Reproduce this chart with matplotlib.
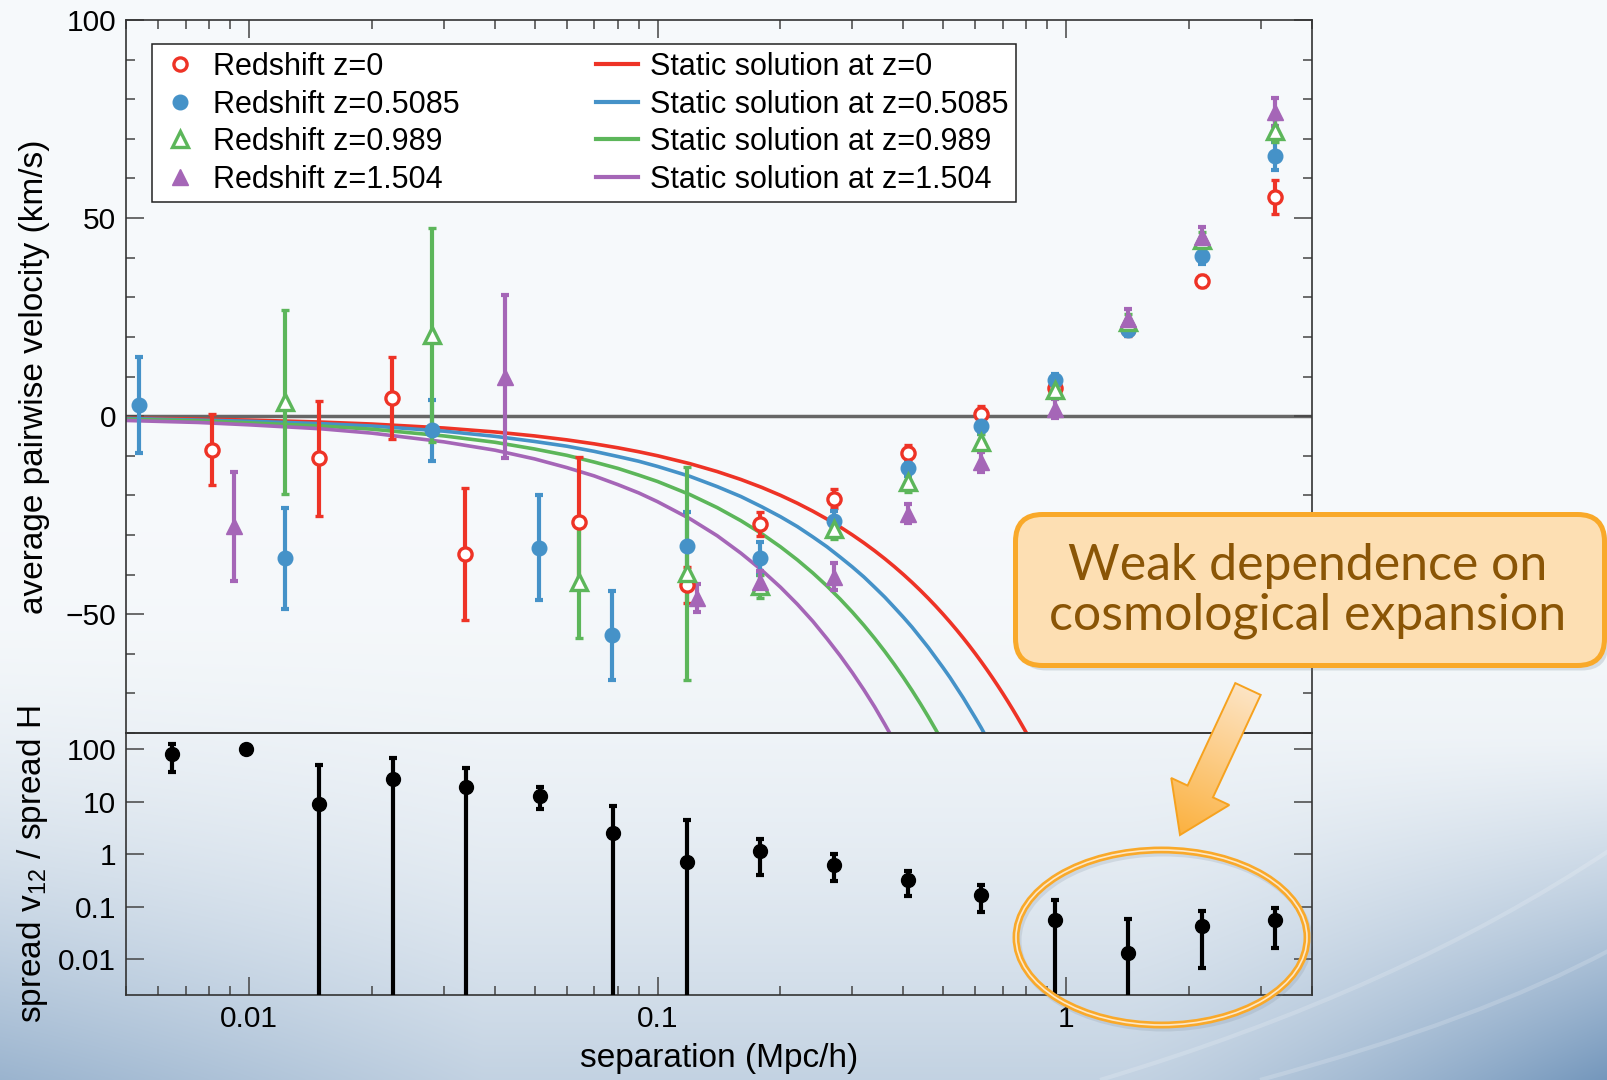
import numpy as np
import matplotlib.pyplot as plt
from matplotlib.lines import Line2D
from matplotlib.patches import FancyBboxPatch, Ellipse, FancyArrow, PathPatch
from matplotlib.path import Path
from matplotlib.colors import to_rgb
from matplotlib.ticker import LogLocator, MultipleLocator, NullLocator, NullFormatter

plt.rcParams['font.family'] = ['Liberation Sans', 'DejaVu Sans']
plt.rcParams['mathtext.fontset'] = 'custom'
plt.rcParams['mathtext.rm'] = 'Liberation Sans'
plt.rcParams['mathtext.it'] = 'Liberation Sans:italic'

RED, BLUE, GREEN, PURPLE = '#ee3326', '#4592c8', '#5cb65a', '#a566b7'

# ---- top panel: average pairwise velocity (km/s) ----
x_z0 = [0.00813, 0.01483, 0.02234, 0.0338, 0.0643, 0.118, 0.1786, 0.2704, 0.4093, 0.6194, 0.9376, 1.419, 2.148, 3.251]
v_z0 = [-8.5, -10.7, 4.5, -34.8, -26.8, -42.6, -27.3, -20.8, -9.3, 0.6, 7.0, 22.1, 34.0, 55.3]
e_z0 = [9.0, 14.4, 10.3, 16.7, 16.5, 4.5, 3.0, 2.5, 2.0, 2.0, 2.0, 2.0, 1.5, 4.4]

x_z05 = [0.00537, 0.01225, 0.0281, 0.0513, 0.0773, 0.118, 0.1786, 0.2704, 0.4093, 0.6194, 0.9376, 1.419, 2.148, 3.251]
v_z05 = [2.8, -35.9, -3.6, -33.2, -55.3, -32.7, -35.9, -26.5, -13.1, -2.5, 9.1, 21.7, 40.3, 65.6]
e_z05 = [12.2, 12.7, 7.7, 13.2, 11.2, 8.5, 4.2, 2.5, 2.0, 2.0, 1.5, 1.5, 2.0, 3.5]

x_z1 = [0.01225, 0.0281, 0.0643, 0.118, 0.1786, 0.2704, 0.4093, 0.6194, 0.9376, 1.419, 2.148, 3.251]
v_z1 = [3.6, 20.4, -41.8, -39.7, -43.0, -28.4, -16.6, -6.5, 6.6, 23.8, 44.4, 72.1]
e_z1 = [23.2, 27.0, 14.3, 26.9, 3.0, 2.5, 2.5, 2.0, 2.0, 2.0, 2.0, 3.0]

x_z15 = [0.00918, 0.0424, 0.125, 0.1786, 0.2704, 0.4093, 0.6194, 0.9376, 1.419, 2.148, 3.251]
v_z15 = [-27.8, 9.9, -46.0, -42.0, -40.5, -24.6, -11.6, 1.9, 24.6, 45.2, 76.7]
e_z15 = [13.8, 20.6, 3.5, 3.0, 3.4, 2.5, 2.5, 2.5, 2.5, 2.5, 3.5]

# static solutions
curve_x = [0.005, 0.0075, 0.01, 0.015, 0.02, 0.03, 0.04, 0.05, 0.06, 0.07, 0.08, 0.09,
           0.10, 0.12, 0.14, 0.16, 0.18, 0.20, 0.22, 0.24, 0.26, 0.28, 0.30, 0.32, 0.34,
           0.36, 0.38, 0.40, 0.42, 0.44, 0.46, 0.48, 0.50, 0.52, 0.54, 0.56, 0.58, 0.60,
           0.62, 0.64, 0.66, 0.68, 0.70, 0.72, 0.74, 0.76, 0.78, 0.80, 0.82, 0.84]
static_z0 = [-0.5, -0.75, -1.0, -1.5, -2.0, -3.0, -4.0, -5.0, -6.0, -7.0, -8.0, -9.0,
             -10.0, -12.0, -14.0, -16.0, -18.0, -20.0, -22.0, -24.0, -26.0, -28.0, -30.0, -32.0, -34.0,
             -36.0, -38.0, -40.0, -42.0, -44.0, -46.0, -48.0, -50.0, -52.0, -54.0, -56.0, -58.0, -60.0,
             -62.0, -64.0, -66.0, -68.0, -70.0, -72.0, -74.0, -76.0, -78.0, -80.0, -82.0, -84.0]
static_z05 = [-0.6, -1.0, -1.3, -1.9, -2.5, -3.8, -5.1, -6.4, -7.6, -8.9, -10.2, -11.4,
              -12.7, -15.2, -17.8, -20.3, -22.9, -25.4, -27.9, -30.5, -33.0, -35.6, -38.1, -40.6, -43.2,
              -45.7, -48.3, -50.8, -53.3, -55.9, -58.4, -61.0, -63.5, -66.0, -68.6, -71.1, -73.7, -76.2,
              -78.7, -81.3, -83.8, -86.4, -88.9, -91.4, -94.0, -96.5, -99.1, -101.6, -104.1, -106.7]
static_z1 = [-0.8, -1.2, -1.7, -2.5, -3.3, -5.0, -6.6, -8.3, -9.9, -11.6, -13.2, -14.9,
             -16.5, -19.8, -23.1, -26.4, -29.7, -33.0, -36.3, -39.6, -42.9, -46.2, -49.5, -52.8, -56.1,
             -59.4, -62.7, -66.0, -69.3, -72.6, -75.9, -79.2, -82.5, -85.8, -89.1, -92.4, -95.7, -99.0,
             -102.3, -105.6, -108.9, -112.2, -115.5, -118.8, -122.1, -125.4, -128.7, -132.0, -135.3, -138.6]
static_z15 = [-1.1, -1.6, -2.2, -3.2, -4.3, -6.5, -8.6, -10.8, -13.0, -15.1, -17.3, -19.4,
              -21.6, -25.9, -30.2, -34.6, -38.9, -43.2, -47.5, -51.8, -56.2, -60.5, -64.8, -69.1, -73.4,
              -77.8, -82.1, -86.4, -90.7, -95.0, -99.4, -103.7, -108.0, -112.3, -116.6, -121.0, -125.3, -129.6,
              -133.9, -138.2, -142.6, -146.9, -151.2, -155.5, -159.8, -164.2, -168.5, -172.8, -177.1, -181.4]

# ---- bottom panel: spread ratio ----
sep = [0.00649, 0.00982, 0.01486, 0.02249, 0.03404, 0.05152, 0.07798, 0.1180,
       0.1786, 0.2704, 0.4093, 0.6194, 0.9376, 1.419, 2.148, 3.251]
ratio = [80, 100, 9.1, 26.9, 19.5, 12.9, 2.6, 0.72, 1.16, 0.63, 0.325, 0.168, 0.056, 0.013, 0.043, 0.056]
ratio_hi = [126, 115, 50, 70, 43.5, 18.9, 8.3, 4.5, 1.96, 1.0, 0.49, 0.26, 0.135, 0.060, 0.085, 0.096]
ratio_lo = [36.5, 84, 1e-4, 1e-4, 1e-4, 7.2, 1e-4, 1e-4, 0.40, 0.31, 0.163, 0.0785, 1e-4, 1e-4, 0.0069, 0.0162]

W, H = 1608, 1080
fig = plt.figure(figsize=(W / 100, H / 100), dpi=100)

# slide background
yy, xx = np.mgrid[0:H:2, 0:W:2]
xn, yn = xx / W, yy / H
d = (0.36 * np.clip((yn - 0.45) / 0.55, 0, 1) ** 2.2
     + 0.55 * np.clip((xn - 0.70) / 0.30, 0, 1) ** 1.3 * np.clip((yn - 0.68) / 0.32, 0, 1) ** 1.2
     + 0.28 * np.clip((0.3 - xn) / 0.3, 0, 1) * np.clip((yn - 0.58) / 0.42, 0, 1) ** 1.5)
light = np.array([0.966, 0.977, 0.985])
dark = np.array([0.40, 0.55, 0.71])
img = light[None, None, :] * (1 - d[..., None]) + dark[None, None, :] * d[..., None]
bg = fig.add_axes([0, 0, 1, 1], zorder=-10)
bg.imshow(img, extent=[0, W, H, 0], aspect='auto', interpolation='bilinear')
for p0, p1, p2 in [((1100, 1080), (1400, 990), (1610, 850)), ((1260, 1080), (1480, 1020), (1610, 950))]:
    sw = Path([p0, p1, p2], [Path.MOVETO, Path.CURVE3, Path.CURVE3])
    bg.add_patch(PathPatch(sw, fc='none', ec='white', lw=3, alpha=0.18))
bg.set_xlim(0, W)
bg.set_ylim(H, 0)
bg.axis('off')

ax = fig.add_axes([126 / W, 1 - 733 / H, 1186 / W, 713 / H])
axb = fig.add_axes([126 / W, 1 - 995 / H, 1186 / W, 262 / H], sharex=ax)
for a in (ax, axb):
    a.set_facecolor('none')
    for s in a.spines.values():
        s.set_linewidth(1.2)
        s.set_color('#333333')

ax.axhline(0, color='#666666', lw=2.5, zorder=1.5)

ax.plot(curve_x, static_z0, color=RED, lw=2.6, zorder=2)
ax.plot(curve_x, static_z05, color=BLUE, lw=2.6, zorder=2)
ax.plot(curve_x, static_z1, color=GREEN, lw=2.6, zorder=2)
ax.plot(curve_x, static_z15, color=PURPLE, lw=2.6, zorder=2)

eb = dict(elinewidth=3, capsize=2.8, capthick=3, zorder=3)
ax.errorbar(x_z0, v_z0, yerr=e_z0, fmt='o', color=RED, ms=9.5, mfc='white', mec=RED, mew=2.4, **eb)
ax.errorbar(x_z05, v_z05, yerr=e_z05, fmt='o', color=BLUE, ms=10.5, **eb)
ax.errorbar(x_z1, v_z1, yerr=e_z1, fmt='^', color=GREEN, ms=12, mfc='white', mec=GREEN, mew=2.4, **eb)
ax.errorbar(x_z15, v_z15, yerr=e_z15, fmt='^', color=PURPLE, ms=12, **eb)

ax.set_xscale('log')
ax.set_xlim(0.005, 4)
ax.set_ylim(-80, 100)
ax.set_yticks([-50, 0, 50, 100])
ax.yaxis.set_minor_locator(MultipleLocator(10))
ax.tick_params(axis='both', which='both', direction='in', colors='#444444', width=1.1,
               labelsize=21.5, pad=7)
ax.tick_params(which='major', length=13)
ax.tick_params(which='minor', length=6.5)
ax.tick_params(axis='x', which='both', top=True, bottom=False, labelbottom=False, labeltop=False)
ax.tick_params(axis='y', which='both', left=True, right=True, labelcolor='black')
ax.set_ylabel('average pairwise velocity (km/s)', fontsize=24)
ax.yaxis.set_label_coords(-0.064, 0.5)

handles = [
    Line2D([], [], ls='none', marker='o', ms=9.5, mfc='white', mec=RED, mew=2.4),
    Line2D([], [], ls='none', marker='o', ms=10.5, color=BLUE),
    Line2D([], [], ls='none', marker='^', ms=12, mfc='white', mec=GREEN, mew=2.4),
    Line2D([], [], ls='none', marker='^', ms=12, color=PURPLE),
    Line2D([], [], color=RED, lw=3),
    Line2D([], [], color=BLUE, lw=3),
    Line2D([], [], color=GREEN, lw=3),
    Line2D([], [], color=PURPLE, lw=3),
]
labels = ['Redshift z=0', 'Redshift z=0.5085', 'Redshift z=0.989', 'Redshift z=1.504',
          'Static solution at z=0', 'Static solution at z=0.5085',
          'Static solution at z=0.989', 'Static solution at z=1.504']
leg = ax.legend(handles, labels, ncol=2, loc='upper left', bbox_to_anchor=(0.0217, 0.966),
                borderaxespad=0, fontsize=22, fancybox=False, framealpha=1, edgecolor='#222222',
                borderpad=0.25, handlelength=1.37, handletextpad=0.38, columnspacing=4.47,
                labelspacing=0.25)
leg.get_frame().set_linewidth(1.1)

axb.errorbar(sep, ratio, yerr=[np.subtract(ratio, ratio_lo), np.subtract(ratio_hi, ratio)],
             fmt='o', color='black', ms=10, elinewidth=3, capsize=2.8, capthick=3, zorder=3)
axb.set_yscale('log')
axb.set_ylim(0.0021, 205)
axb.set_yticks([0.01, 0.1, 1, 10, 100], ['0.01', '0.1', '1', '10', '100'])
axb.yaxis.set_minor_locator(NullLocator())
axb.set_xticks([0.01, 0.1, 1], ['0.01', '0.1', '1'])
axb.xaxis.set_minor_locator(LogLocator(base=10, subs=np.arange(2, 10)))
axb.xaxis.set_minor_formatter(NullFormatter())
axb.set_xlim(0.005, 4)
axb.tick_params(axis='both', which='both', direction='in', colors='#444444', width=1.1,
                labelsize=21.5, pad=7, labelcolor='black')
axb.tick_params(which='major', length=13)
axb.tick_params(which='minor', length=6.5)
axb.tick_params(axis='x', which='both', top=False, bottom=True)
axb.tick_params(axis='y', which='both', left=True, right=True)
axb.set_ylabel(r'spread v$_{\mathrm{12}}$ / spread H', fontsize=24)
axb.yaxis.set_label_coords(-0.064, 0.5)
axb.set_xlabel('separation (Mpc/h)', fontsize=24)
axb.xaxis.set_label_coords(0.5, -0.185)

# callout layer, in pixel units
ov = fig.add_axes([0, 0, 1, 1], zorder=5)
ov.set_facecolor('none')

ov.add_patch(FancyBboxPatch((1019.5, 519.5), 589, 151, boxstyle='round,pad=0,rounding_size=27',
                            fc='#6f8194', ec='none', alpha=0.22))
ov.add_patch(FancyBboxPatch((1015.5, 514.5), 589, 151, boxstyle='round,pad=0,rounding_size=27',
                            fc='#fddfb3', ec='#f9a92a', lw=3.6))
ov.text(1308, 591, 'Weak dependence on\ncosmological expansion', ha='center', va='center',
        fontsize=36, family=['Lato', 'DejaVu Sans'], color='#8a5506', linespacing=1.12)

arrow = FancyArrow(1248, 689, -68, 146, width=28, head_width=64, head_length=48,
                   length_includes_head=True, transform=ov.transData)
gy, gx = np.mgrid[670:850, 1130:1290]
t = np.clip(((gx - 1248) * -68 + (gy - 689) * 146) / (68 ** 2 + 146 ** 2), 0, 1)
c0, c1 = np.array(to_rgb('#fde4c4')), np.array(to_rgb('#fbb13f'))
grad = c0[None, None, :] * (1 - t[..., None]) + c1[None, None, :] * t[..., None]
im = ov.imshow(grad, extent=[1130, 1290, 850, 670], aspect='auto', interpolation='bilinear')
im.set_clip_path(arrow)
ov.add_patch(FancyArrow(1248, 689, -68, 146, width=28, head_width=64, head_length=48,
                        length_includes_head=True, fc='none', ec='#f6a21f', lw=1.4))

ov.add_patch(Ellipse((1163.5, 940.5), 291, 175, fc='none', ec='#7d8c9c', lw=5, alpha=0.2))
ov.add_patch(Ellipse((1161.5, 937.5), 291, 175, fc='none', ec='#f9a92a', lw=5))
ov.add_patch(Ellipse((1161.5, 937.5), 291, 175, fc='none', ec='#fde8c8', lw=1.2))

ov.set_xlim(0, W)
ov.set_ylim(H, 0)
ov.axis('off')

fig.savefig('out.png', dpi=100)
